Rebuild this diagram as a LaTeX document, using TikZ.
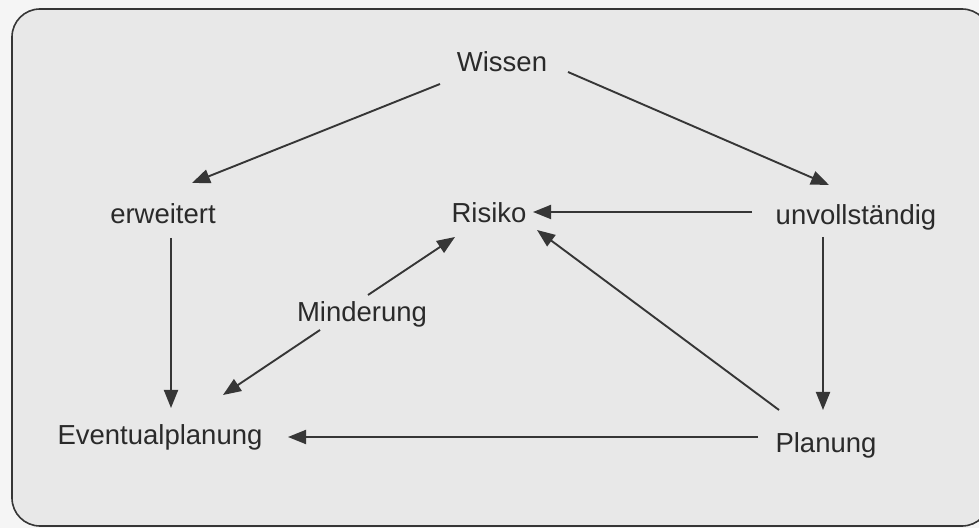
\documentclass[tikz,border=0pt]{standalone}
\usepackage{fontspec}
\setmainfont{Liberation Sans}
\usetikzlibrary{arrows.meta}
\definecolor{bgin}{HTML}{E8E8E8}
\definecolor{bgout}{HTML}{F5F5F5}
\definecolor{ink}{HTML}{363636}
\definecolor{txt}{HTML}{2A2A2A}
\tikzset{
  lbl/.style={anchor=base, inner sep=0pt, text=txt, font=\fontsize{13.75}{16}\selectfont},
  arr/.style={draw=ink, line width=0.95pt, -{Triangle[length=9pt,width=7pt]}},
  frame/.style={draw=ink, line width=0.8pt, fill=bgin, rounded corners=14pt}
}
\begin{document}
\begin{tikzpicture}[x=0.5pt,y=-0.5pt]
\useasboundingbox (0,0) rectangle (979,528);
\clip (0,0) rectangle (979,528);
\fill[bgout] (0,0) rectangle (979,528);
\path[frame] (12,9) rectangle (990,526);

\node[lbl] (w)   at (502,72)  {Wissen};
\node[lbl] (erw) at (163,224) {erweitert};
\node[lbl] (ri)  at (489,223) {Risiko};
\node[lbl] (unv) at (856,225) {unvollständig};
\node[lbl] (mi)  at (362,322) {Minderung};
\node[lbl] (ev)  at (160,445) {Eventualplanung};
\node[lbl] (pl)  at (826,453) {Planung};

\draw[arr] ([shift={(-62,12)}]w.base) -- ([shift={(29,-41)}]erw.base);
\draw[arr] ([shift={(66,0)}]w.base) -- ([shift={(-27,-40)}]unv.base);
\draw[arr] ([shift={(-104,-13)}]unv.base) -- ([shift={(44,-11)}]ri.base);
\draw[arr] ([shift={(-33,12)}]unv.base) -- ([shift={(-3,-43)}]pl.base);
\draw[arr] ([shift={(8,14)}]erw.base) -- ([shift={(11,-37)}]ev.base);
\draw[arr] ([shift={(-47,-43)}]pl.base) -- ([shift={(48,7)}]ri.base);
\draw[arr] ([shift={(-68,-16)}]pl.base) -- ([shift={(128,-8)}]ev.base);
\draw[arr] ([shift={(6,-27)}]mi.base) -- ([shift={(-34,14)}]ri.base);
\draw[arr] ([shift={(-42,8)}]mi.base) -- ([shift={(63,-50)}]ev.base);
\end{tikzpicture}
\end{document}
